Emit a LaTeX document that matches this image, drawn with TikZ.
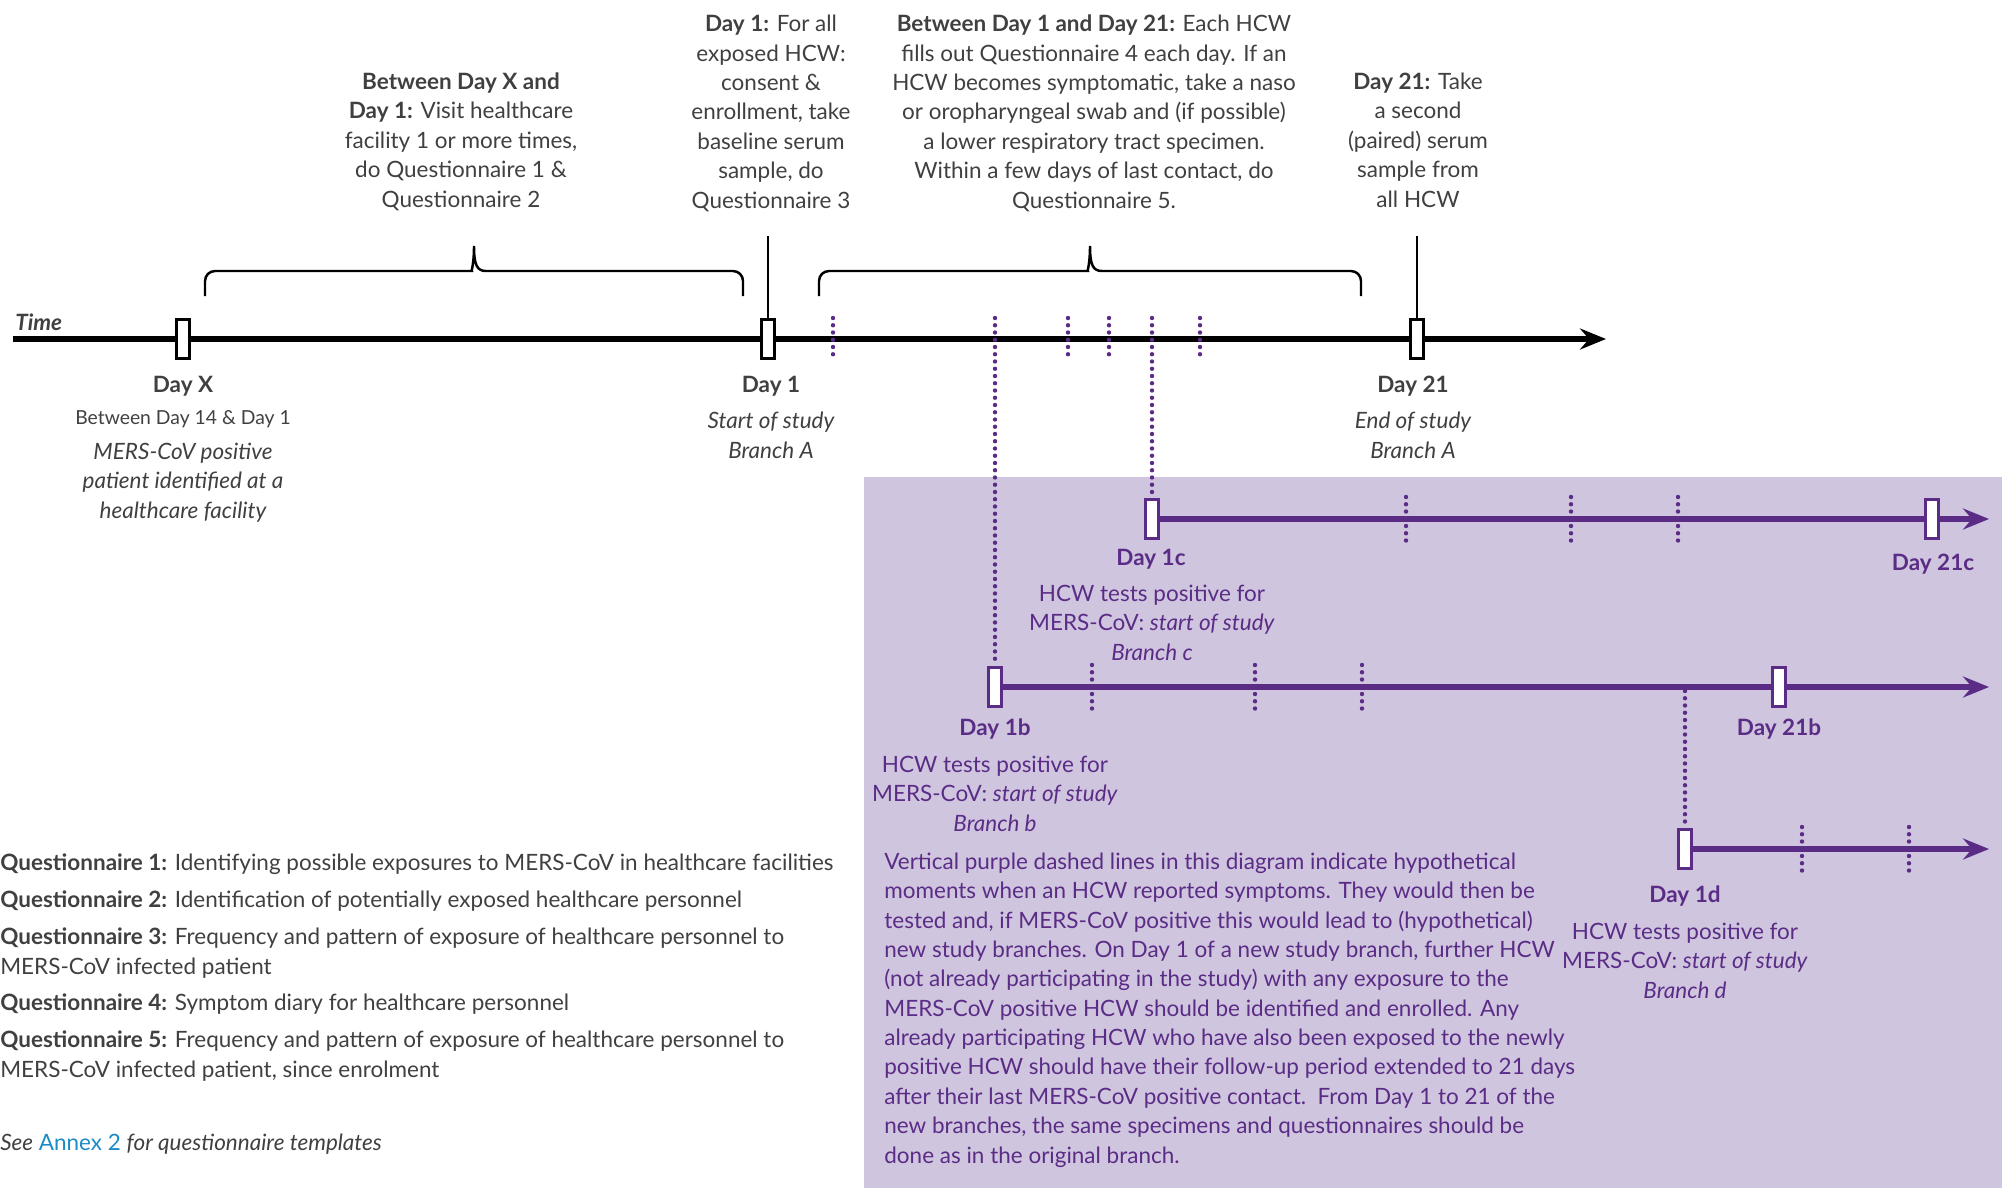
\documentclass[tikz,border=0pt]{standalone}
\usepackage{fontspec}
\setmainfont{Lato}
\usetikzlibrary{arrows.meta}

\definecolor{txtgray}{HTML}{404040}
\definecolor{hcwpurple}{HTML}{5B2C86}
\definecolor{panelpurple}{HTML}{CFC5DF}
\definecolor{annexblue}{HTML}{1B8BC6}

\tikzset{
  txt/.style={text=txtgray, inner sep=0pt, align=center},
  ptxt/.style={text=hcwpurple, inner sep=0pt, align=center},
  daybox/.style={draw=black, line width=1.5pt, fill=white, minimum width=0.27cm, minimum height=0.79cm, inner sep=0pt},
  pbox/.style={daybox, draw=hcwpurple},
  timeline/.style={line width=3.2pt, -{Stealth[length=0.52cm,width=0.42cm,inset=0.18cm]}},
  branch/.style={timeline, draw=hcwpurple, fill=hcwpurple},
  symptom/.style={draw=hcwpurple, line width=2.5pt, line cap=round, dash pattern=on 0pt off 0.145cm},
  brace/.style={line width=1.4pt},
}

\begin{document}
\fontsize{12.8pt}{16.7pt}\selectfont
\begin{tikzpicture}[x=0.02cm, y=-0.02cm]
\useasboundingbox (0,0) rectangle (2002,1188);

% shaded area for the new branches
\fill[panelpurple] (864,477) rectangle (2002,1188);

% main timeline
\coordinate (tl start) at (13,339);
\coordinate (tl end) at (1606,339);
\draw[timeline] (tl start) -- (tl end);
\node[txt, anchor=base west, font=\bfseries\itshape] (time) at (15,330) {Time};

\node[daybox] (dayX) at (183,339) {};
\node[daybox] (day1) at (768,339) {};
\node[daybox] (day21) at (1417,339) {};

% braces
\draw[brace, rounded corners=0.2cm] (205,296) |- (462,271) [sharp corners]
  .. controls (471,271) and (474,265) .. (474,246)
  .. controls (474,265) and (477,271) .. (486,271) [rounded corners=0.2cm] -| (743,296);
\draw[brace, rounded corners=0.2cm] (819,296) |- (1078,271) [sharp corners]
  .. controls (1087,271) and (1090,265) .. (1090,246)
  .. controls (1090,265) and (1093,271) .. (1102,271) [rounded corners=0.2cm] -| (1361,296);
\draw[line width=1.2pt] (768,236) -- (day1.north);
\draw[line width=1.2pt] (1417,236) -- (day21.north);

% texts above the timeline (base = last line)
\node[txt, anchor=base] (prestudy) at (461,207) {\textbf{Between Day X and}\\\textbf{Day 1:} Visit healthcare\\facility 1 or more times,\\do Questionnaire 1 \&\\Questionnaire 2};
\node[txt, anchor=base] (enrol) at (771,208) {\textbf{Day 1:} For all\\exposed HCW:\\consent \&\\enrollment, take\\baseline serum\\sample, do\\Questionnaire 3};
\node[txt, anchor=base] (followup) at (1094,208) {\textbf{Between Day 1 and Day 21:} Each HCW\\fills out Questionnaire 4 each day. If an\\HCW becomes symptomatic, take a naso\\or oropharyngeal swab and (if possible)\\a lower respiratory tract specimen.\\Within a few days of last contact, do\\Questionnaire 5.};
\node[txt, anchor=base] (paired) at (1418,207) {\textbf{Day 21:} Take\\a second\\(paired) serum\\sample from\\all HCW};

% texts below the timeline
\node[txt, anchor=base, font=\bfseries] (dayX lbl) at (183,392) {Day X};
\node[txt, anchor=base, font=\fontsize{11pt}{14pt}\selectfont] (dayX when) at (183,424) {Between Day 14 \& Day 1};
\node[txt, anchor=base, font=\itshape] (dayX note) at (183,518) {MERS-CoV positive\\patient identified at a\\healthcare facility};
\node[txt, anchor=base, font=\bfseries] (day1 lbl) at (771,392) {Day 1};
\node[txt, anchor=base, font=\itshape] (day1 note) at (771,458) {Start of study\\Branch A};
\node[txt, anchor=base, font=\bfseries] (day21 lbl) at (1413,392) {Day 21};
\node[txt, anchor=base, font=\itshape] (day21 note) at (1413,458) {End of study\\Branch A};

% branch c
\draw[branch] (1152,519) -- (1989,519);
\node[pbox] (day1c) at (1152,519) {};
\node[pbox] (day21c) at (1932,519) {};
\node[ptxt, anchor=base, font=\bfseries] (day1c lbl) at (1151,565) {Day 1c};
\node[ptxt, anchor=base, font=\bfseries] (day21c lbl) at (1933,570) {Day 21c};
\node[ptxt, anchor=base] (day1c note) at (1152,660) {HCW tests positive for\\MERS-CoV: \textit{start of study}\\\textit{Branch c}};

% branch b
\draw[branch] (995,687) -- (1989,687);
\node[pbox] (day1b) at (995,687) {};
\node[pbox] (day21b) at (1779,687) {};
\node[ptxt, anchor=base, font=\bfseries] (day1b lbl) at (995,735) {Day 1b};
\node[ptxt, anchor=base, font=\bfseries] (day21b lbl) at (1779,735) {Day 21b};
\node[ptxt, anchor=base] (day1b note) at (995,831) {HCW tests positive for\\MERS-CoV: \textit{start of study}\\\textit{Branch b}};

% branch d
\draw[branch] (1685,849) -- (1989,849);
\node[pbox] (day1d) at (1685,849) {};
\node[ptxt, anchor=base, font=\bfseries] (day1d lbl) at (1685,902) {Day 1d};
\node[ptxt, anchor=base] (day1d note) at (1685,998) {HCW tests positive for\\MERS-CoV: \textit{start of study}\\\textit{Branch d}};

% reported symptoms
\foreach \x in {833,1068,1109,1200}
  \draw[symptom] (\x,318) -- (\x,361);
\draw[symptom] (995,318) -- (day1b.north);
\draw[symptom] (1152,318) -- (day1c.north);
\foreach \x in {1406,1571,1678}
  \draw[symptom] (\x,497) -- (\x,541);
\foreach \x in {1092,1255,1362}
  \draw[symptom] (\x,665) -- (\x,709);
\draw[symptom] (1685,691) -- (day1d.north);
\foreach \x in {1802,1909}
  \draw[symptom] (\x,827) -- (\x,871);

% questionnaires
\node[txt, anchor=base west, align=left] (q1) at (0,870) {\textbf{Questionnaire 1:} Identifying possible exposures to MERS-CoV in healthcare facilities};
\node[txt, anchor=base west, align=left] (q2) at (0,907) {\textbf{Questionnaire 2:} Identification of potentially exposed healthcare personnel};
\node[txt, anchor=base west, align=left] (q3) at (0,974) {\textbf{Questionnaire 3:} Frequency and pattern of exposure of healthcare personnel to\\MERS-CoV infected patient};
\node[txt, anchor=base west, align=left] (q4) at (0,1010) {\textbf{Questionnaire 4:} Symptom diary for healthcare personnel};
\node[txt, anchor=base west, align=left] (q5) at (0,1077) {\textbf{Questionnaire 5:} Frequency and pattern of exposure of healthcare personnel to\\MERS-CoV infected patient, since enrolment};
\node[txt, anchor=base west, align=left] (annex) at (0,1150) {\textit{See} \textcolor{annexblue}{Annex 2} \textit{for questionnaire templates}};

% explanation
\node[ptxt, anchor=base west, align=left] (explain) at (884,1163) {Vertical purple dashed lines in this diagram indicate hypothetical\\moments when an HCW reported symptoms. They would then be\\tested and, if MERS-CoV positive this would lead to (hypothetical)\\new study branches. On Day 1 of a new study branch, further HCW\\(not already participating in the study) with any exposure to the\\MERS-CoV positive HCW should be identified and enrolled. Any\\already participating HCW who have also been exposed to the newly\\positive HCW should have their follow-up period extended to 21 days\\after their last MERS-CoV positive contact.\ \ From Day 1 to 21 of the\\new branches, the same specimens and questionnaires should be\\done as in the original branch.};
\end{tikzpicture}
\end{document}
